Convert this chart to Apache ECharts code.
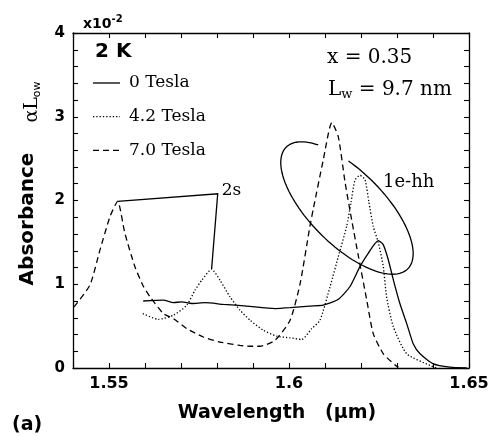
<!DOCTYPE html>
<html>
<head>
<meta charset="utf-8">
<script src="https://cdn.jsdelivr.net/npm/echarts@6/dist/echarts.min.js"></script>
<style>
  html, body { margin: 0; padding: 0; background: #fff; }
  #chart { width: 494px; height: 436px; }
</style>
</head>
<body>
<div id="chart"></div>
<script>
// Absorbance spectra (αL, in units of 1e-2) versus wavelength (µm) at 2 K
const seriesNames = ['0 Tesla', '4.2 Tesla', '7.0 Tesla'];

const wl0T = [1.5595, 1.5651, 1.5679, 1.5702, 1.5730, 1.5767, 1.5818, 1.5883, 1.5961, 1.6003,
              1.6058, 1.6095, 1.6137, 1.6169, 1.6197, 1.6220, 1.6248, 1.6262, 1.6276, 1.6290,
              1.6308, 1.6327, 1.6345, 1.6364, 1.6401, 1.6447, 1.6494];
const abs0T = [0.80, 0.81, 0.78, 0.79, 0.77, 0.78, 0.76, 0.74, 0.71, 0.72,
               0.74, 0.75, 0.82, 0.97, 1.21, 1.37, 1.52, 1.47, 1.29, 1.05,
               0.77, 0.53, 0.29, 0.17, 0.05, 0.01, 0.00];

const wl42T = [1.5594, 1.5637, 1.5679, 1.5716, 1.5739, 1.5758, 1.5785, 1.5808, 1.5836, 1.5864,
               1.5892, 1.5929, 1.5966, 1.6003, 1.6035, 1.6063, 1.6086, 1.6114, 1.6137, 1.6160,
               1.6172, 1.6183, 1.6197, 1.6211, 1.6222, 1.6234, 1.6248, 1.6262, 1.6271, 1.6290,
               1.6327, 1.6392, 1.6410];
const abs42T = [0.65, 0.58, 0.63, 0.75, 0.93, 1.05, 1.18, 1.05, 0.85, 0.69,
                0.57, 0.45, 0.38, 0.36, 0.34, 0.47, 0.57, 0.97, 1.33, 1.69,
                1.97, 2.24, 2.30, 2.25, 1.98, 1.69, 1.50, 1.21, 0.85, 0.49,
                0.17, 0.03, 0.00];

const wl70T = [1.5403, 1.5447, 1.5475, 1.5503, 1.5524, 1.5544, 1.5572, 1.5595, 1.5614, 1.5651,
               1.5679, 1.5716, 1.5762, 1.5808, 1.5864, 1.5892, 1.5919, 1.5961, 1.6003, 1.6031,
               1.6058, 1.6067, 1.6095, 1.6119, 1.6137, 1.6156, 1.6174, 1.6193, 1.6216, 1.6234,
               1.6262, 1.6299, 1.6304];
const abs70T = [0.73, 0.99, 1.41, 1.81, 1.99, 1.61, 1.21, 0.98, 0.85, 0.65,
                0.59, 0.47, 0.37, 0.31, 0.27, 0.26, 0.26, 0.33, 0.57, 1.01,
                1.69, 1.89, 2.48, 2.93, 2.76, 2.21, 1.77, 1.33, 0.81, 0.41,
                0.17, 0.02, 0.01];

// axis tick labels
const xTickLabels = ['1.55', '1.6', '1.65'];
const yTickLabels = ['0', '1', '2', '3', '4'];

// annotation anchors in data units: 2s peaks and the corner of the pointer
const twoSCorner = [1.5802, 2.08];
const twoSDashedPeak = [1.5524, 1.99];
const twoSDottedPeak = [1.5785, 1.18];
// 1e-hh ellipse centre (data units)
const ellipseCentre = [1.6161, 1.91];

function pairs(xs, ys) { return xs.map((x, i) => [x, ys[i]]); }

const chart = echarts.init(document.getElementById('chart'), null, { renderer: 'canvas' });

const tickFont = { fontFamily: 'DejaVu Sans', fontWeight: 'bold', color: '#000' };
const axisBase = {
  type: 'value',
  axisLine: { show: true, onZero: false, lineStyle: { color: '#000', width: 1.3 } },
  axisTick: { show: true, inside: true, length: 5, lineStyle: { color: '#000', width: 1.1 } },
  splitLine: { show: false }
};

// line dash for each series (solid, dotted, dashed)
const dashes = [null, [1.3, 2], [6, 4]];

chart.setOption({
  animation: false,
  backgroundColor: '#fff',
  grid: { left: 73, right: 25, top: 33, bottom: 68, containLabel: false },
  xAxis: [
    Object.assign({}, axisBase, {
      min: 1.54, max: 1.65, interval: 0.01, position: 'bottom',
      axisLabel: {
        show: true, margin: 8, fontSize: 16, ...tickFont,
        formatter: v => {
          const s = String(Math.round(v * 100) / 100);
          return xTickLabels.includes(s) ? s : '';
        }
      }
    }),
    Object.assign({}, axisBase, {
      min: 1.54, max: 1.65, interval: 0.01, position: 'top',
      axisLabel: { show: false }
    })
  ],
  yAxis: [
    Object.assign({}, axisBase, {
      min: 0, max: 4, interval: 0.2, position: 'left',
      axisLabel: {
        show: true, margin: 8, fontSize: 15, ...tickFont,
        formatter: v => {
          const s = String(Math.round(v * 10) / 10);
          return yTickLabels.includes(s) ? s : '';
        }
      }
    }),
    Object.assign({}, axisBase, {
      min: 0, max: 4, interval: 0.2, position: 'right',
      axisLabel: { show: false }
    })
  ],
  series: [
    {
      name: seriesNames[0], type: 'line', data: pairs(wl0T, abs0T),
      symbol: 'none', smooth: 0.2,
      lineStyle: { color: '#000', width: 1.3, type: 'solid' }
    },
    {
      name: seriesNames[1], type: 'line', data: pairs(wl42T, abs42T),
      symbol: 'none', smooth: 0.2,
      lineStyle: { color: '#000', width: 1.3, type: dashes[1] }
    },
    {
      name: seriesNames[2], type: 'line', data: pairs(wl70T, abs70T),
      symbol: 'none', smooth: 0.2,
      lineStyle: { color: '#000', width: 1.3, type: dashes[2] }
    }
  ]
});

// Annotations placed from data coordinates
const px = p => chart.convertToPixel({ xAxisIndex: 0, yAxisIndex: 0 }, p);

const c = px(ellipseCentre);
const a = 86, b = 37, th = Math.PI / 4;
const ellipsePts = [];
for (let deg = 248; deg <= 583; deg += 3) {
  const t = deg * Math.PI / 180;
  const u = a * Math.cos(t), w = b * Math.sin(t);
  ellipsePts.push([c[0] + u * Math.cos(th) - w * Math.sin(th),
                   c[1] + u * Math.sin(th) + w * Math.cos(th)]);
}

const corner = px(twoSCorner);
const serif = 'DejaVu Serif';

// legend: line sample + name for each series
const legendItems = [];
seriesNames.forEach((name, i) => {
  const y = 83 + i * 33.7;
  legendItems.push({ type: 'line', shape: { x1: 93, y1: y, x2: 120, y2: y },
    style: { stroke: '#000', lineWidth: 1.3, lineDash: dashes[i] } });
  legendItems.push({ type: 'text', x: 129, y: y,
    style: { text: name, font: '17px ' + serif, fill: '#000', textVerticalAlign: 'middle' } });
});

chart.setOption({
  graphic: legendItems.concat([
    { type: 'polyline', shape: { points: [px(twoSDashedPeak), corner, px(twoSDottedPeak)] },
      style: { stroke: '#000', lineWidth: 1.3, fill: null } },
    { type: 'polyline', shape: { points: ellipsePts, smooth: 0 },
      style: { stroke: '#000', lineWidth: 1.3, fill: null } },
    { type: 'text', x: corner[0] + 4, y: corner[1] - 3,
      style: { text: '2s', font: '17px ' + serif, fill: '#000', textVerticalAlign: 'middle' } },
    { type: 'text', x: 383, y: 182,
      style: { text: '1e-hh', font: '18px ' + serif, fill: '#000', textVerticalAlign: 'middle' } },
    { type: 'text', x: 327, y: 58,
      style: { text: 'x = 0.35', font: '20px ' + serif, fill: '#000', textVerticalAlign: 'middle' } },
    { type: 'text', x: 328, y: 90,
      style: {
        text: '{m|L}{s|w}{m| = 9.7 nm}', textVerticalAlign: 'middle',
        rich: {
          m: { fontFamily: serif, fontSize: 20, color: '#000' },
          s: { fontFamily: serif, fontSize: 13, color: '#000', padding: [9, 0, 0, 0] }
        }
      } },
    { type: 'text', x: 95, y: 52,
      style: { text: '2 K', font: 'bold 20px DejaVu Sans', fill: '#000', textVerticalAlign: 'middle' } },
    { type: 'text', x: 83, y: 24,
      style: {
        text: '{m|x10}{s|-2}', textVerticalAlign: 'middle',
        rich: {
          m: { fontFamily: 'DejaVu Sans', fontWeight: 'bold', fontSize: 14, color: '#000' },
          s: { fontFamily: 'DejaVu Sans', fontWeight: 'bold', fontSize: 10, color: '#000', padding: [0, 0, 10, 0] }
        }
      } },
    { type: 'text', x: 277, y: 413,
      style: { text: 'Wavelength   (μm)', font: 'bold 19px DejaVu Sans', fill: '#000',
               textAlign: 'center', textVerticalAlign: 'middle' } },
    { type: 'text', x: 12, y: 425,
      style: { text: '(a)', font: 'bold 19px DejaVu Sans', fill: '#000', textVerticalAlign: 'middle' } },
    { type: 'text', x: 28, y: 219, rotation: Math.PI / 2,
      style: { text: 'Absorbance', font: 'bold 20px DejaVu Sans', fill: '#000',
               textAlign: 'center', textVerticalAlign: 'middle' } },
    { type: 'text', x: 32, y: 102, rotation: Math.PI / 2,
      style: {
        text: '{m|αL}{s|ow}', textAlign: 'center', textVerticalAlign: 'middle',
        rich: {
          m: { fontFamily: serif, fontSize: 19, color: '#000' },
          s: { fontFamily: 'DejaVu Sans', fontSize: 11, color: '#000', padding: [10, 0, 0, 0] }
        }
      } }
  ])
});
</script>
</body>
</html>
